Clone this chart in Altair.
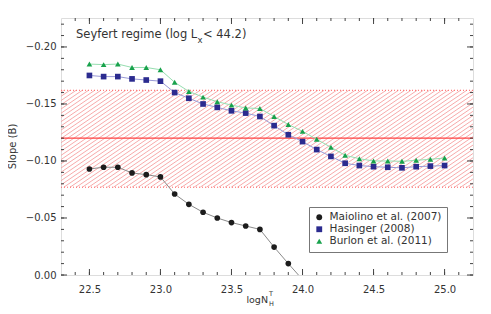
import altair as alt
import numpy as np
import pandas as pd

# ---------------- data ----------------
series_names = ["Maiolino et al. (2007)", "Hasinger (2008)", "Burlon et al. (2011)"]

x_maiolino = [22.5, 22.6, 22.7, 22.8, 22.9, 23.0, 23.1, 23.2, 23.3, 23.4, 23.5,
              23.6, 23.7, 23.8, 23.9, 24.0]
y_maiolino = [-0.093, -0.0945, -0.0945, -0.0895, -0.088, -0.086, -0.071, -0.062,
              -0.055, -0.050, -0.046, -0.043, -0.040, -0.0245, -0.010, 0.004]

x_common = [22.5, 22.6, 22.7, 22.8, 22.9, 23.0, 23.1, 23.2, 23.3, 23.4, 23.5, 23.6,
            23.7, 23.8, 23.9, 24.0, 24.1, 24.2, 24.3, 24.4, 24.5, 24.6, 24.7, 24.8,
            24.9, 25.0]
y_hasinger = [-0.175, -0.174, -0.174, -0.172, -0.171, -0.170, -0.160, -0.155, -0.150,
              -0.147, -0.144, -0.142, -0.139, -0.131, -0.123, -0.117, -0.110, -0.104,
              -0.098, -0.096, -0.095, -0.0945, -0.094, -0.095, -0.0955, -0.096]
y_burlon = [-0.185, -0.1845, -0.185, -0.182, -0.182, -0.180, -0.169, -0.161, -0.156,
            -0.152, -0.149, -0.1465, -0.146, -0.139, -0.132, -0.126, -0.119, -0.112,
            -0.105, -0.102, -0.100, -0.100, -0.0997, -0.1006, -0.1015, -0.1026]

band_center = -0.120
band_top = -0.162
band_bottom = -0.077

x_major = [22.5, 23.0, 23.5, 24.0, 24.5, 25.0]
y_major = [-0.20, -0.15, -0.10, -0.05, 0.00]
x_minor = [round(22.4 + 0.1 * i, 1) for i in range(28)]
y_minor = [round(-0.22 + 0.01 * i, 2) for i in range(23)]

# ---------------- layout / style ----------------
W, H = 412, 257
X_DOM = [22.3, 25.2]
Y_DOM = [-0.2254, 0.0]
FONT = "DejaVu Sans"
TXT = "#333333"

xscale = alt.Scale(domain=X_DOM, nice=False, zero=False)
yscale = alt.Scale(domain=Y_DOM, nice=False, zero=False, reverse=True)
xaxis = alt.Axis(values=x_major, format=".1f", ticks=False, domain=False, grid=False,
                 labelPadding=9, labelFontSize=10, labelColor=TXT, labelFont=FONT, title=None)
yaxis = alt.Axis(values=y_major, format=".2f", ticks=False, domain=False, grid=False,
                 labelPadding=5, labelFontSize=10, labelColor=TXT, labelFont=FONT, title=None)


def X(f):
    return alt.X(f, type="quantitative", scale=xscale, axis=xaxis, title=None)


def Y(f):
    return alt.Y(f, type="quantitative", scale=yscale, axis=yaxis, title=None)


# data frames
df_m = pd.DataFrame({"x": x_maiolino, "y": y_maiolino, "series": series_names[0]})
df_h = pd.DataFrame({"x": x_common, "y": y_hasinger, "series": series_names[1]})
df_b = pd.DataFrame({"x": x_common, "y": y_burlon, "series": series_names[2]})
df_all = pd.concat([df_m, df_h, df_b], ignore_index=True)

# hatch pattern for the band (pure decoration, computed in pixel space)
px_x = W / (X_DOM[1] - X_DOM[0])
px_y = H / (Y_DOM[1] - Y_DOM[0])
Hb = (band_bottom - band_top) * px_y
m = 0.68
dx = 6.2
rows = []
for c in np.arange(-W * m, Hb, dx * m):
    xs = max(0.0, -c / m)
    xe = min(float(W), (Hb - c) / m)
    if xe > xs:
        ys, ye = m * xs + c, m * xe + c
        rows.append({"x": X_DOM[0] + xs / px_x, "y": band_bottom - ys / px_y,
                     "x2": X_DOM[0] + xe / px_x, "y2": band_bottom - ye / px_y})
df_hatch = pd.DataFrame(rows)

hatch = alt.Chart(df_hatch).mark_rule(color="#f6a0a0", strokeWidth=0.9).encode(
    x=X("x"), y=Y("y"), x2="x2", y2="y2")

df_band = pd.DataFrame({"y": [band_top, band_bottom]})
band_edges = alt.Chart(df_band).mark_rule(color="#ff5c5c", strokeWidth=1,
                                          strokeDash=[1, 2]).encode(y=Y("y"))
center = alt.Chart(pd.DataFrame({"y": [band_center]})).mark_rule(
    color="#ff4040", strokeWidth=1.2).encode(y=Y("y"))

line_colors = ["#8a8a8a", "#9a9ad6", "#96deb0"]
lines = [alt.Chart(d).mark_line(color=c, strokeWidth=1, clip=True).encode(x=X("x"), y=Y("y"))
         for d, c in zip([df_m, df_h, df_b], line_colors)]

point_colors = ["#1c1c1c", "#2b2b8f", "#18a24c"]
legend = alt.Legend(orient="none", legendX=248, legendY=189, title=None,
                    fillColor="white", strokeColor="#777777", padding=5,
                    labelFontSize=10.5, labelFont=FONT, labelColor=TXT,
                    symbolSize=34, rowPadding=1, labelOffset=5, symbolStrokeWidth=0,
                    cornerRadius=0)
points = alt.Chart(df_all).mark_point(filled=True, size=32, opacity=1, clip=True).encode(
    x=X("x"), y=Y("y"),
    color=alt.Color("series:N", scale=alt.Scale(domain=series_names, range=point_colors),
                    legend=legend),
    shape=alt.Shape("series:N", scale=alt.Scale(domain=series_names,
                                                range=["circle", "square", "triangle-up"]),
                    legend=legend),
)

# inward ticks on all four sides
TK = "#444444"
maj, mnr = 6, 3
dxM = pd.DataFrame({"v": x_major})
dxm = pd.DataFrame({"v": x_minor})
dyM = pd.DataFrame({"v": y_major})
dym = pd.DataFrame({"v": y_minor})
ticks = []
for d, L in [(dxM, maj), (dxm, mnr)]:
    ticks.append(alt.Chart(d).mark_rule(color=TK, strokeWidth=1).encode(
        x=X("v"), y=alt.value(H), y2=alt.value(H - L)))
    ticks.append(alt.Chart(d).mark_rule(color=TK, strokeWidth=1).encode(
        x=X("v"), y=alt.value(0), y2=alt.value(L)))
for d, L in [(dyM, maj), (dym, mnr)]:
    ticks.append(alt.Chart(d).mark_rule(color=TK, strokeWidth=1).encode(
        y=Y("v"), x=alt.value(0), x2=alt.value(L)))
    ticks.append(alt.Chart(d).mark_rule(color=TK, strokeWidth=1).encode(
        y=Y("v"), x=alt.value(W), x2=alt.value(W - L)))


def text(s, x, y, size, align="left", angle=0, baseline="alphabetic"):
    return alt.Chart(pd.DataFrame({"t": [s]})).mark_text(
        font=FONT, fontSize=size, color=TXT, align=align, baseline=baseline, angle=angle
    ).encode(x=alt.value(x), y=alt.value(y), text="t:N")


texts = [
    text("Seyfert regime (log L", 15, 20, 11.5),
    text("x", 136.5, 24.5, 8.5),
    text("< 44.2)", 142, 20, 11.5),
    text("logN", 207, H + 28, 9.5, align="right"),
    text("T", 208, H + 21, 6.5),
    text("H", 208, H + 30.5, 6.5),
    text("Slope (B)", -48, H / 2, 10, align="center", angle=270, baseline="middle"),
]

chart = alt.layer(
    hatch, band_edges, center, *lines, points, *ticks, *texts
).properties(
    width=W, height=H,
    autosize="none",
    padding={"left": 53, "top": 10, "right": 10, "bottom": 31},
).configure_view(stroke="#555555", strokeWidth=1.5).configure(background="white")

chart.save("out.html", embed_options={"renderer": "svg", "actions": False})
